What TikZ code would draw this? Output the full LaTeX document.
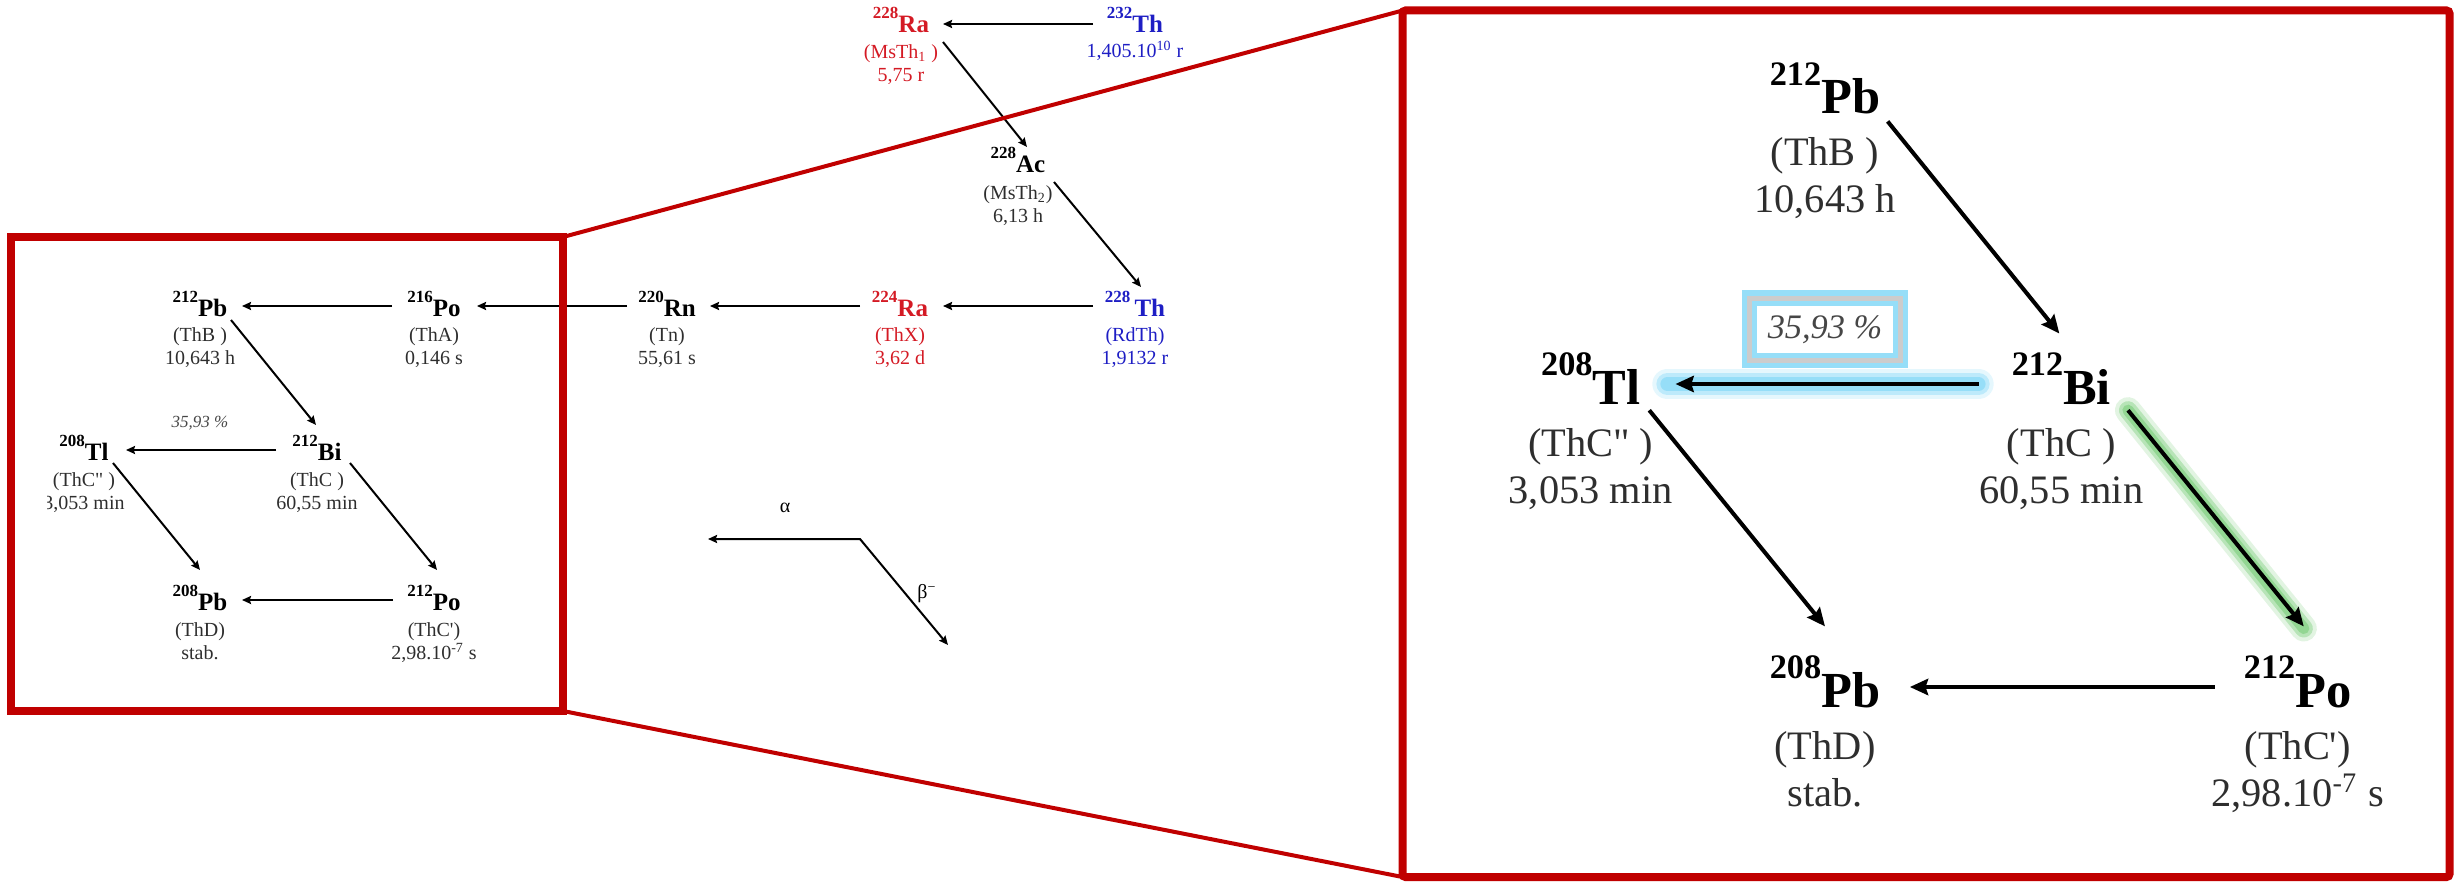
\documentclass[tikz,border=0pt]{standalone}
\usepackage{fontspec}
\setmainfont{Liberation Serif}
\usetikzlibrary{arrows.meta,calc}

\definecolor{rared}{RGB}{212,26,36}
\definecolor{thblue}{RGB}{30,30,196}
\definecolor{framered}{RGB}{192,0,0}
\definecolor{glowblue}{RGB}{150,222,248}
\definecolor{glowgreen}{RGB}{140,212,140}
\definecolor{pctgray}{RGB}{70,70,70}

% mass number raised before the element symbol
\newcommand\iso[2]{\raisebox{7pt}{\fontsize{8.5}{8.5}\selectfont#1}#2}
% two centred lines, baseline on the first one
\newcommand\twolines[2]{\begin{tabular}[t]{@{}c@{}}#1\\#2\end{tabular}}

\tikzset{
  sym/.style={font=\fontsize{12.5}{12.5}\selectfont\bfseries, inner sep=0pt,
    text height=10pt, text depth=0pt},
  info/.style={font=\fontsize{10}{11.5}\selectfont, inner sep=0pt, anchor=base, text=black!82},
  decay/.style={draw=black, line width=1pt,
    -{Stealth[length=4.5pt,width=4pt,inset=0.6pt]}},
  pct/.style={font=\fontsize{8.5}{8.5}\selectfont\itshape, text=pctgray, inner sep=0pt},
  pctboxed/.style={draw=gray!40, line width=1.2pt, minimum width=37.5pt,
    minimum height=15.5pt, preaction={draw=glowblue, line width=3.8pt}},
  greek/.style={font=\fontsize{10}{10}\selectfont, inner sep=0pt},
  zoomframe/.style={draw=framered, line width=4pt, inner sep=0pt, outer sep=0pt},
  zoomline/.style={draw=framered, line width=2pt},
  halo/.style={line cap=round, draw=#1},
}

% the ThB -> ThD branch; #1 extra style of the branching label, #2 underlay
\newcommand\thcbranch[2]{%
  \node[sym] (pbB) at (200,306) {\iso{212}{Pb}};
  \node[info] (pbBx) at (200,342) {\twolines{(ThB )}{10,643 h}};
  \node[sym] (biB) at (317,450) {\iso{212}{Bi}};
  \node[info] (biBx) at (317,486) {\twolines{(ThC )}{60,55 min}};
  \node[sym] (tlB) at (84,450) {\iso{208}{Tl}};
  \node[info] (tlBx) at (84,486) {\twolines{(ThC\textquotedbl\ )}{3,053 min}};
  \node[sym] (pbD) at (200,600) {\iso{208}{Pb}};
  \node[info] (pbDx) at (200,636) {\twolines{(ThD)}{stab.}};
  \node[sym] (poC) at (434,600) {\iso{212}{Po}};
  \node[info] (poCx) at (434,636) {\twolines{(ThC\textquotesingle)}{2,98.10\textsuperscript{-7} s}};
  \node[pct,#1] (share) at (200,423) {35,93 \%};
  #2
  \draw[decay] ($(pbB)+(31,14)$) -- ($(biB)+(-1,-25)$);
  \draw[decay] ($(biB)+(-41,0)$) -- ($(tlB)+(42,0)$);
  \draw[decay] ($(biB)+(33,13)$) -- ($(poC)+(3,-30)$);
  \draw[decay] ($(tlB)+(29,13)$) -- ($(pbD)+(0,-30)$);
  \draw[decay] ($(poC)+(-41,0)$) -- ($(pbD)+(42,0)$);
}

\begin{document}
\begin{tikzpicture}[x=0.5pt,y=-0.5pt]
\useasboundingbox (0,0) rectangle (2463,882);

% ---- upper part of the thorium series ----
\node[sym,text=rared] (ra228) at (901,23) {\iso{228}{Ra}};
\node[info,text=rared] (ra228x) at (901,59) {\twolines{(MsTh\textsubscript{1} )}{5,75 r}};
\node[sym,text=thblue] (th232) at (1135,23) {\iso{232}{Th}};
\node[info,text=thblue] (th232x) at (1135,58) {1,405.10\textsuperscript{10} r};
\node[sym] (ac228) at (1018,163) {\iso{228}{Ac}};
\node[info] (ac228x) at (1018,200) {\twolines{(MsTh\textsubscript{2})}{6,13 h}};
\node[sym,text=thblue] (th228) at (1135,306) {\iso{228}{\,Th}};
\node[info,text=thblue] (th228x) at (1135,342) {\twolines{(RdTh)}{1,9132 r}};
\node[sym,text=rared] (ra224) at (900,306) {\iso{224}{Ra}};
\node[info,text=rared] (ra224x) at (900,342) {\twolines{(ThX)}{3,62 d}};
\node[sym] (rn220) at (667,306) {\iso{220}{Rn}};
\node[info] (rn220x) at (667,342) {\twolines{(Tn)}{55,61 s}};
\node[sym] (po216) at (434,306) {\iso{216}{Po}};
\node[info] (po216x) at (434,342) {\twolines{(ThA)}{0,146 s}};

\draw[decay] ($(th232)+(-42,1)$) -- ($(ra228)+(42,1)$);
\draw[decay] ($(ra228)+(42,19)$) -- ($(ac228)+(9,-16)$);
\draw[decay] ($(ac228)+(36,19)$) -- ($(th228)+(6,-19)$);
\draw[decay] ($(th228)+(-42,0)$) -- ($(ra224)+(43,0)$);
\draw[decay] ($(ra224)+(-40,0)$) -- ($(rn220)+(43,0)$);
\draw[decay] ($(rn220)+(-40,0)$) -- ($(po216)+(43,0)$);

% ---- branch, small copy ----
\begin{scope}
  \clip (47,237) rectangle (563,711);
  \thcbranch{}{}
\end{scope}
\draw[decay] ($(po216)+(-42,0)$) -- ($(pbB)+(42,0)$);

% ---- branch, enlarged copy with highlights ----
\begin{scope}[transform canvas={shift={(1421,-525)},scale=2.02}]
  \thcbranch{pctboxed}{%
    \draw[halo=glowblue, line width=7.5pt, opacity=.25] ($(biB)+(-41,0)$) -- ($(tlB)+(38,0)$);
    \draw[halo=glowblue, line width=5.5pt, opacity=.5] ($(biB)+(-41,0)$) -- ($(tlB)+(38,0)$);
    \draw[halo=glowblue, line width=3.5pt] ($(biB)+(-41,0)$) -- ($(tlB)+(38,0)$);
    \draw[halo=glowgreen, line width=6.5pt, opacity=.25] ($(biB)+(33,13)$) -- ($(poC)+(3,-29)$);
    \draw[halo=glowgreen, line width=4.5pt, opacity=.5] ($(biB)+(33,13)$) -- ($(poC)+(3,-29)$);
    \draw[halo=glowgreen, line width=2.8pt, opacity=.85] ($(biB)+(33,13)$) -- ($(poC)+(3,-29)$);
  }
\end{scope}

% ---- legend ----
\coordinate (lgA) at (708,539);
\coordinate (lg) at (860,539);
\coordinate (lgB) at (948,645);
\draw[decay, {Stealth[length=4.5pt,width=4pt,inset=0.6pt]}-{Stealth[length=4.5pt,width=4pt,inset=0.6pt]}]
  (lgA) -- (lg) -- (lgB);
\node[greek] (alpha) at (785,508) {α};
\node[greek] (beta) at (927,594) {β\textsuperscript{−}};

% ---- zoom frames ----
\node[zoomframe, minimum width=276pt, minimum height=237pt] (srcbox) at (287,474) {};
\node[zoomframe, rounded corners=1.5pt, minimum width=523.5pt, minimum height=433.25pt]
  (dstbox) at (1926,443.75) {};
\draw[zoomline] (srcbox.north east) -- (dstbox.north west);
\draw[zoomline] (srcbox.south east) -- (dstbox.south west);
\end{tikzpicture}
\end{document}
